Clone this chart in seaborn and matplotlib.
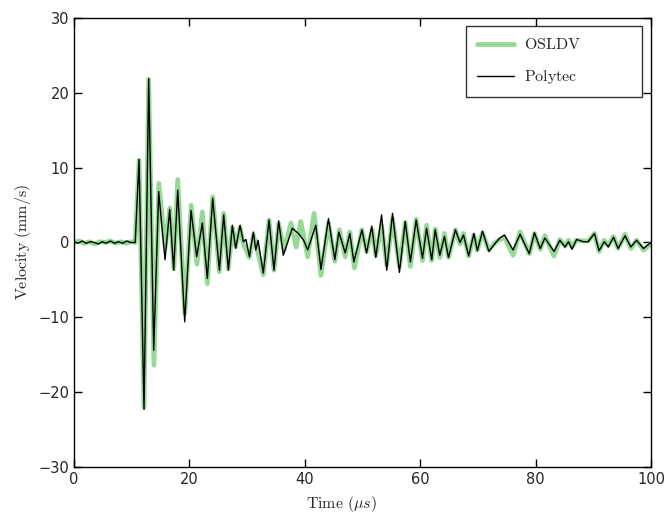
import pandas as pd
import seaborn as sns
import matplotlib
matplotlib.use('Agg')
import matplotlib.pyplot as plt

# Polytec (black) - peaks / troughs
polytec_t = [0, 0.7, 1.4, 2.1, 2.8, 3.5, 4.2, 4.9, 5.6, 6.3, 7.0, 7.7, 8.4, 9.1, 9.8, 10.6,
             11.27, 12.13, 12.94, 13.81, 14.67, 15.77, 16.58, 17.27, 17.97, 19.18, 20.28,
             21.26, 22.24, 23.1, 24.03, 25.19, 25.94, 26.75, 27.44, 28.02, 28.77, 29.35,
             29.8, 30.4, 31.08, 31.5, 31.9, 32.8, 33.8, 34.66, 35.47, 36.27, 37.84, 38.9,
             39.8, 40.5, 41.9, 42.8, 44.1, 45.2, 45.9, 47.0, 47.8, 48.5, 49.9, 50.7, 51.6,
             52.3, 53.3, 54.2, 55.2, 56.4, 57.4, 58.3, 59.3, 60.4, 61.1, 62.0, 62.6, 63.4,
             64.2, 64.9, 66.1, 66.9, 67.5, 68.4, 69.3, 69.9, 70.8, 71.9, 73.0, 73.8, 74.6,
             76.1, 77.3, 78.9, 79.8, 80.8, 81.6, 83.2, 84.2, 85.1, 85.7, 86.3, 87.1, 88.3,
             89.1, 90.2, 91.0, 91.9, 92.6, 93.5, 94.3, 95.5, 96.5, 97.5, 98.7, 100]
polytec_v = [0.1, -0.1, 0.2, -0.1, 0.1, 0.0, -0.2, 0.1, -0.1, 0.2, -0.1, 0.1, -0.1, 0.2, 0.0, 0.0,
             11.1, -22.3, 21.9, -14.4, 6.8, -2.3, 4.4, -3.7, 7.0, -10.6, 4.3,
             -1.9, 2.6, -4.8, 5.9, -3.7, 3.7, -3.7, 2.3, -0.8, 2.3, 0.1,
             0.4, -1.9, 1.4, -1.0, 0.3, -4.1, 3.0, -3.7, 2.9, -1.7, 1.9, 1.2,
             0.3, -1.0, 2.3, -3.6, 3.2, -2.3, 1.4, -1.4, 1.2, -2.6, 1.7, -1.4, 2.2,
             -2.0, 3.7, -3.7, 3.9, -4.0, 2.8, -2.6, 3.0, -2.1, 1.9, -2.3, 1.7, -1.7,
             0.8, -2.0, 1.7, 0.0, 1.0, -1.8, 1.2, -1.1, 1.5, -1.2, -0.1, 0.6, 1.0,
             -1.0, 1.1, -1.5, 1.3, -0.8, 0.6, -1.2, 0.3, -0.6, 0.1, -0.9, 0.4, 0.1,
             0.1, 1.2, -1.1, 0.1, -0.6, 0.7, -0.8, 0.9, -0.6, 0.3, -0.8, 0.0]

# OSLDV (light green)
osldv_t = [0, 0.9, 1.8, 2.7, 3.6, 4.5, 5.4, 6.3, 7.2, 8.1, 9.0, 9.9, 10.6,
           11.27, 12.13, 12.94, 13.85, 14.7, 15.8, 16.6, 17.3, 17.97, 19.2, 20.3,
           21.3, 22.24, 23.1, 24.03, 25.19, 25.94, 26.75, 27.44, 28.02, 28.77, 29.35,
           30.4, 31.08, 31.6, 32.8, 33.8, 34.66, 35.47, 36.4, 37.6, 38.5, 39.3, 40.5,
           41.6, 42.8, 44.1, 45.2, 46.0, 47.0, 47.8, 48.6, 49.9, 50.7, 51.7, 52.3, 53.3,
           54.2, 55.2, 56.4, 57.4, 58.3, 59.3, 60.4, 61.1, 62.0, 62.6, 63.4, 64.2, 64.9,
           66.1, 66.9, 67.5, 68.4, 69.3, 69.9, 70.8, 71.9, 73.0, 73.8, 74.6, 76.1, 77.3,
           78.9, 79.8, 80.8, 81.6, 83.2, 84.2, 85.1, 85.7, 86.3, 87.1, 88.3, 89.1, 90.2,
           91.0, 91.9, 92.6, 93.5, 94.3, 95.5, 96.5, 97.5, 98.7, 100]
osldv_v = [0.0, 0.2, -0.1, 0.1, -0.2, 0.1, 0.0, 0.2, -0.1, 0.1, -0.1, 0.1, 0.0,
           11.0, -22.0, 21.8, -16.4, 7.9, -0.7, 4.6, -3.5, 8.4, -9.5, 5.0,
           -2.9, 4.1, -5.5, 6.1, -3.9, 3.9, -3.5, 2.0, -0.5, 2.0, -0.2,
           -2.0, 1.0, -0.5, -4.3, 3.0, -3.7, 2.5, -1.0, 2.6, -0.6, 2.8, -1.9,
           3.9, -4.4, 2.6, -2.5, 1.7, -1.9, 1.4, -3.4, 1.7, -1.2, 1.7, -1.7, 2.3,
           -3.0, 3.2, -3.2, 2.7, -3.2, 3.1, -2.4, 2.3, -2.4, 1.8, -2.0, 1.2, -2.0,
           1.7, -0.2, 1.2, -1.8, 1.0, -1.0, 1.3, -1.0, 0.0, 0.4, 0.7, -1.7, 1.4,
           -1.5, 1.2, -0.9, 0.9, -1.8, 0.4, -0.5, 0.3, -0.6, 0.3, 0.2, 0.2, 1.2,
           -1.2, 0.3, -0.4, 0.8, -0.8, 1.1, -0.8, 0.3, -1.0, -0.2]

sns.set_style("ticks")
plt.rcParams['mathtext.fontset'] = 'cm'
plt.rcParams['font.family'] = ['DejaVu Sans']
plt.rcParams['xtick.direction'] = 'in'
plt.rcParams['ytick.direction'] = 'in'
plt.rcParams['xtick.top'] = True
plt.rcParams['ytick.right'] = True

fig = plt.figure(figsize=(6.67, 5.13), dpi=100)
ax = fig.add_axes([0.111, 0.0897, 0.865, 0.8752])

sns.lineplot(x=osldv_t, y=osldv_v, color='#94d994', lw=3.4, label=r'$\mathrm{OSLDV}$',
             estimator=None, ax=ax)
sns.lineplot(x=polytec_t, y=polytec_v, color='black', lw=1.0, label=r'$\mathrm{Polytec}$',
             estimator=None, ax=ax)

ax.set_xlim(0, 100)
ax.set_ylim(-30, 30)
ax.set_xticks([0, 20, 40, 60, 80, 100])
ax.set_yticks([-30, -20, -10, 0, 10, 20, 30])
ax.tick_params(labelsize=10.5, length=6, width=1, color='black')
for s in ax.spines.values():
    s.set_color('black')
    s.set_linewidth(1.0)
ax.set_xlabel(r'$\mathrm{Time\ (}\mu s\mathrm{)}$', fontsize=11.5)
ax.set_ylabel(r'$\mathrm{Velocity\ (mm/s)}$', fontsize=11.5)
# the reference x label sits a bit left of centre
ax.xaxis.set_label_coords(0.463, -0.06)

leg = ax.legend(loc='upper left', bbox_to_anchor=(0.679, 0.826, 0.305, 0.156), mode='expand',
                borderaxespad=0, fancybox=False, frameon=True, fontsize=11.5,
                handlelength=2.3, handletextpad=0.65, labelspacing=1.0, borderpad=0.7)
leg.get_frame().set_edgecolor('black')
leg.get_frame().set_linewidth(1.0)

fig.savefig('out.png', dpi=100)
